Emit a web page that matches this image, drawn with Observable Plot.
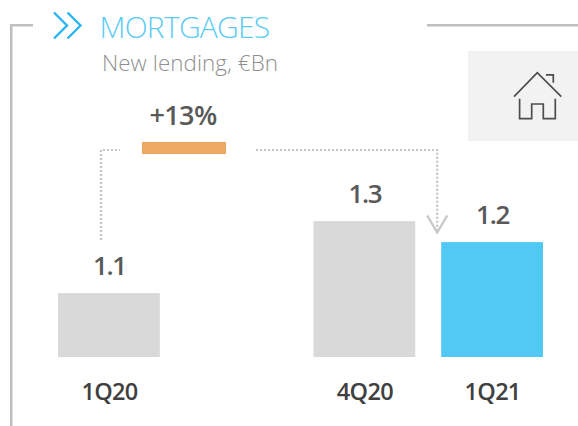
<!DOCTYPE html>
<html>
<head>
<meta charset="utf-8">
<style>html,body{margin:0;padding:0;background:#fff;overflow:hidden}svg{display:block}
.vals text{letter-spacing:-1.3px}
.ticks text{letter-spacing:-0.7px}</style>
<script src="https://cdn.jsdelivr.net/npm/d3@7"></script>
<script src="https://cdn.jsdelivr.net/npm/@observablehq/plot@0.6"></script>
</head>
<body>
<div id="chart"></div>
<script>
const categories = ["1Q20", "4Q20", "1Q21"];
const slots = ["1Q20", "gap", "4Q20", "1Q21"];
const barValues = [1.05, 1.29, 1.22];
const valueLabels = ["1.1", "1.3", "1.2"];
const barColors = ["#d9d9d9", "#d9d9d9", "#52c8f5"];
const baseline = 0.837;
const axisTop = 2.027;
const titleText = "MORTGAGES";
const subtitleText = "New lending, €Bn";
const changeText = "+13%";

const rows = categories.map((c, i) => ({cat: c, value: barValues[i], label: valueLabels[i], color: barColors[i]}));
const font = "'Open Sans', sans-serif";

function decor(index, scales) {
  const ns = d3.create("svg:g");
  const line = (d, stroke, w, extra = {}) => {
    const p = ns.append("path").attr("d", d).attr("fill", "none").attr("stroke", stroke).attr("stroke-width", w);
    for (const k in extra) p.attr(k, extra[k]);
    return p;
  };
  const text = (s, x, y, size, fill, weight, anchor = "start") =>
    ns.append("text").text(s).attr("x", x).attr("y", y).attr("font-size", size).attr("fill", fill)
      .attr("font-weight", weight).attr("text-anchor", anchor).attr("font-family", font);

  // frame
  line("M33,25.2H11.2V426", "#bfbfbf", 2.6);
  line("M427,25.2H578", "#bfbfbf", 2.6);
  // chevrons
  line("M54,12.5L67,25.5L54,38.5M67.5,12.5L80.5,25.5L67.5,38.5", "#29b6f0", 2.4);
  // titles
  text(titleText, 99.5, 38, 30, "#5ccbf3", 300).attr("letter-spacing", "-0.75px");
  text(subtitleText, 102, 71, 22.4, "#8f8f8f", 300).attr("textLength", 176);
  // change
  text(changeText, 183, 125, 27, "#595959", 600, "middle").attr("letter-spacing", "-0.6px");
  ns.append("rect").attr("x", 142).attr("y", 142).attr("width", 84).attr("height", 12).attr("fill", "#eda964");
  // connector
  const cx = scales.x("1Q21");
  const dot = {"stroke-dasharray": "2 2"};
  line("M101,240V150H120", "#c4c4c4", 2.2, dot);
  line(`M256,150H${cx - 4}V232`, "#c4c4c4", 2.2, dot);
  line(`M${cx - 14},215.5L${cx - 4},232.5L${cx + 6},215.5`, "#c8c8c8", 2.4);
  // icon panel
  ns.append("rect").attr("x", 468).attr("y", 51).attr("width", 110).attr("height", 90).attr("fill", "#f2f2f2");
  line("M514,96.7L537.3,72.7L561.3,96.7", "#4d4d4d", 1.7);
  line("M519.6,98.7V118.7H531.7V104H543.3V118.7H555.3V98.7", "#4d4d4d", 1.7);
  line("M546,74.8H553.3V82.7", "#4d4d4d", 1.7);
  return ns.node();
}

const plot = Plot.plot({
  width: 578,
  height: 426,
  margin: 0,
  style: {background: "#fff", fontFamily: font},
  x: {type: "band", domain: slots, range: [58, 543], paddingInner: 0.203, paddingOuter: 0, align: 0, round: false, axis: null},
  y: {domain: [baseline, axisTop], range: [357, 0], axis: null},
  color: {type: "identity"},
  marks: [
    decor,
    Plot.barY(rows, {x: "cat", y1: baseline, y2: "value", fill: "color"}),
    Plot.text(rows, {x: "cat", y: "value", text: "label", className: "vals", dy: -27, fontSize: 26, fontWeight: 600, fill: "#595959", textAnchor: "middle"}),
    Plot.text(rows, {x: "cat", y: baseline, text: "cat", className: "ticks", dy: 35, fontSize: 23.5, fontWeight: 600, fill: "#404040", textAnchor: "middle"})
  ]
});
document.getElementById("chart").append(plot);
</script>
</body>
</html>
